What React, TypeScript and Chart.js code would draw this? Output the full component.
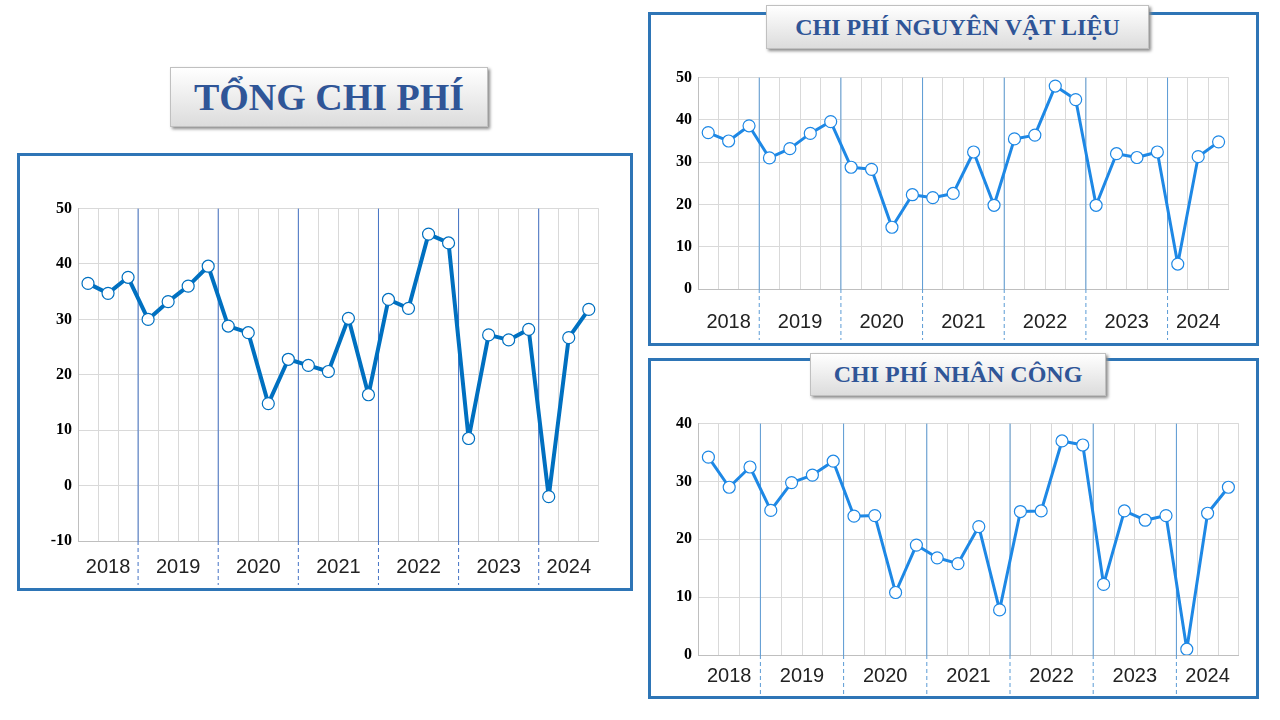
import React, { useEffect, useRef } from "react";
import { Chart, registerables } from "chart.js";
Chart.register(...registerables);

const quarters = [
  "Q2/2018","Q3/2018","Q4/2018",
  "Q1/2019","Q2/2019","Q3/2019","Q4/2019",
  "Q1/2020","Q2/2020","Q3/2020","Q4/2020",
  "Q1/2021","Q2/2021","Q3/2021","Q4/2021",
  "Q1/2022","Q2/2022","Q3/2022","Q4/2022",
  "Q1/2023","Q2/2023","Q3/2023","Q4/2023",
  "Q1/2024","Q2/2024","Q3/2024",
];
const years = ["2018","2019","2020","2021","2022","2023","2024"];
const quartersPerYear = [3,4,4,4,4,4,3];

const tongChiPhi = [36.5,34.7,37.6,30,33.2,36,39.6,28.8,27.6,14.8,22.8,21.7,20.6,30.2,16.4,33.6,32,45.4,43.8,8.5,27.2,26.3,28.2,-2,26.7,31.8];
const nguyenVatLieu = [37,35,38.6,31,33.2,36.8,39.6,28.8,28.3,14.6,22.3,21.6,22.6,32.4,19.8,35.5,36.4,48,44.8,19.8,32,31.1,32.4,5.9,31.3,34.8];
const nhanCong = [34.2,29,32.5,25,29.8,31.1,33.5,24,24.1,10.8,19,16.8,15.8,22.2,7.8,24.8,24.9,37,36.3,12.2,24.9,23.3,24.1,1,24.5,29];

type P = { data: number[]; min: number; max: number; step: number; color: string; lw: number;
  left: number; top: number; w: number; h: number; labelPad: number; sepColor: string };

function LineChart(p: P) {
  const ref = useRef<HTMLCanvasElement>(null);
  useEffect(() => {
    const yearPlugin = {
      id: "years",
      beforeDatasetsDraw(chart: any) {
        const x = chart.scales.x, a = chart.chartArea, ctx = chart.ctx;
        let idx = 0;
        ctx.save();
        quartersPerYear.forEach((n, i) => {
          const f = x.getPixelForValue(idx), l = x.getPixelForValue(idx + n - 1);
          ctx.fillStyle = "#222";
          ctx.font = "20px 'Liberation Sans', Arial";
          ctx.textAlign = "center";
          ctx.textBaseline = "middle";
          ctx.fillText(years[i], (f + l) / 2, a.bottom + p.labelPad);
          if (i < quartersPerYear.length - 1) {
            const b = (l + x.getPixelForValue(idx + n)) / 2;
            ctx.strokeStyle = p.sepColor; ctx.lineWidth = 1; ctx.setLineDash([]);
            ctx.beginPath(); ctx.moveTo(b, a.top); ctx.lineTo(b, a.bottom); ctx.stroke();
            ctx.setLineDash([4, 3]);
            ctx.beginPath(); ctx.moveTo(b, a.bottom); ctx.lineTo(b, chart.height); ctx.stroke();
          }
          idx += n;
        });
        ctx.restore();
      },
    };
    const c = new Chart(ref.current!, {
      type: "line",
      data: { labels: quarters, datasets: [{ data: p.data, borderColor: p.color, borderWidth: p.lw,
        borderJoinStyle: "round", borderCapStyle: "round",
        pointRadius: 6, pointBackgroundColor: "#fff", pointBorderColor: p.color, pointBorderWidth: 1.2, tension: 0 }] },
      options: {
        animation: false, responsive: false,
        layout: { padding: { top: 5, right: 6, bottom: p.labelPad + 18 } },
        plugins: { legend: { display: false }, tooltip: { enabled: false } },
        scales: {
          x: { offset: true, grid: { offset: true, color: "#d9d9d9", drawTicks: false }, border: { color: "#bfbfbf" }, ticks: { display: false } },
          y: { min: p.min, max: p.max, ticks: { stepSize: p.step, color: "#000", font: { family: "'Liberation Serif'", size: 16, weight: "bold" }, padding: 6 },
            grid: { color: "#d9d9d9", drawTicks: false }, border: { color: "#bfbfbf" },
            afterFit: (s: any) => { s.width = 38; } },
        },
      },
      plugins: [yearPlugin],
    } as any);
    return () => c.destroy();
  }, []);
  return <canvas ref={ref} width={p.w} height={p.h} style={{ position: "absolute", left: p.left, top: p.top, width: p.w, height: p.h }} />;
}

const box = (l: number, t: number, w: number, h: number): React.CSSProperties => ({
  position: "absolute", left: l, top: t, width: w, height: h, border: "3px solid #2E75B6", boxSizing: "border-box", background: "#fff" });
const title = (l: number, t: number, w: number, h: number, fs: number): React.CSSProperties => ({
  position: "absolute", left: l, top: t, width: w, height: h, boxSizing: "border-box",
  background: "linear-gradient(#ffffff, #dcdcdc)", border: "1px solid #c0c0c0", boxShadow: "2px 2px 3px #8a8a8a",
  fontFamily: "'Liberation Serif', serif", fontWeight: "bold", fontSize: fs, color: "#2F5597",
  display: "flex", alignItems: "center", justifyContent: "center", zIndex: 2 });

export default function App() {
  return (
    <div style={{ position: "absolute", left: 0, top: 0, width: 1280, height: 720, background: "#fff" }}>
      <div style={box(17, 153, 616, 438)} />
      <LineChart data={tongChiPhi} min={-10} max={50} step={10} color="#0070C0" lw={4}
        left={40} top={193} w={566} h={392} labelPad={26} sepColor="#4472C4" />
      <div style={title(170, 67, 318, 60, 38)}>TỔNG CHI PHÍ</div>

      <div style={box(648, 12, 611, 334)} />
      <LineChart data={nguyenVatLieu} min={0} max={50} step={10} color="#1E88E5" lw={3}
        left={660} top={62} w={576} h={278} labelPad={33} sepColor="#5B9BD5" />
      <div style={title(766, 5, 383, 44, 24)}>CHI PHÍ NGUYÊN VẬT LIỆU</div>

      <div style={box(648, 358, 611, 341)} />
      <LineChart data={nhanCong} min={0} max={40} step={10} color="#1E88E5" lw={3}
        left={660} top={408} w={586} h={286} labelPad={21} sepColor="#5B9BD5" />
      <div style={title(810, 353, 296, 43, 24)}>CHI PHÍ NHÂN CÔNG</div>
    </div>
  );
}
